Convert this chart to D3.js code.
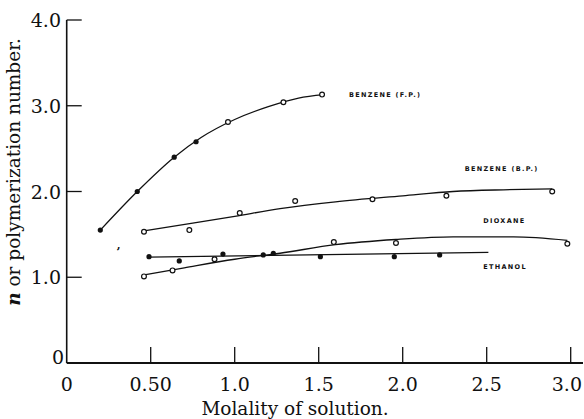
<!DOCTYPE html>
<html>
<head>
<meta charset="utf-8">
<script src="https://cdn.jsdelivr.net/npm/d3@7"></script>
<style>
  body { margin: 0; background: #fff; }
  svg { display: block; }
</style>
</head>
<body>
<script>
// values
const xTicks = [0.5, 1.0, 1.5, 2.0, 2.5, 3.0];
const xTickLabels = ["0.50", "1.0", "1.5", "2.0", "2.5", "3.0"];
const yTicks = [1, 2, 3, 4];
const yTickLabels = ["1.0", "2.0", "3.0", "4.0"];

const benzeneFPFilled = [[0.20, 1.55], [0.42, 2.0], [0.64, 2.40], [0.77, 2.58]];
const benzeneFPOpen = [[0.96, 2.81], [1.29, 3.04], [1.52, 3.13]];
const benzeneFPFit = [[0.20, 1.55], [0.42, 2.0], [0.64, 2.40], [0.80, 2.63], [1.0, 2.84], [1.2, 2.99], [1.38, 3.09], [1.53, 3.13]];

const benzeneBPOpen = [[0.46, 1.53], [0.73, 1.55], [1.03, 1.75], [1.36, 1.89], [1.82, 1.91], [2.26, 1.95], [2.89, 2.0]];
const benzeneBPFit = [[0.46, 1.54], [0.75, 1.63], [1.0, 1.71], [1.27, 1.80], [1.6, 1.88], [2.0, 1.95], [2.3, 2.0], [2.6, 2.02], [2.89, 2.03]];

const dioxaneOpen = [[0.46, 1.01], [0.63, 1.08], [0.88, 1.21], [1.59, 1.41], [1.96, 1.40], [2.98, 1.39]];
const dioxaneFit = [[0.47, 1.03], [0.7, 1.11], [1.0, 1.21], [1.27, 1.28], [1.6, 1.38], [1.96, 1.44], [2.3, 1.47], [2.66, 1.47], [2.98, 1.43]];

const ethanolFilled = [[0.49, 1.24], [0.67, 1.19], [0.93, 1.27], [1.17, 1.26], [1.23, 1.28], [1.51, 1.24], [1.95, 1.24], [2.22, 1.26]];
const ethanolFit = [[0.49, 1.235], [2.51, 1.29]];

const curveLabels = [
  {text: "BENZENE (F.P.)", at: [1.68, 3.1]},
  {text: "BENZENE (B.P.)", at: [2.37, 2.24]},
  {text: "DIOXANE", at: [2.48, 1.63]},
  {text: "ETHANOL", at: [2.48, 1.10]}
];
const strayMark = [0.31, 1.37];

const width = 584, height = 419;
const margin = {top: 20, left: 66.7};

const x = d3.scaleLinear().domain([0, 3.0]).range([margin.left, 570.7]);
const y = d3.scaleLinear().domain([0, 4.0]).range([363, margin.top]);

const svg = d3.select("body").append("svg")
    .attr("width", width)
    .attr("height", height)
    .attr("font-family", "'DejaVu Serif', serif");

// axes
svg.append("line")
    .attr("x1", x(0)).attr("x2", x(0))
    .attr("y1", y(0)).attr("y2", y(4))
    .attr("stroke", "#111").attr("stroke-width", 1.6);
svg.append("line")
    .attr("x1", x(0)).attr("x2", 583)
    .attr("y1", y(0)).attr("y2", y(0))
    .attr("stroke", "#111").attr("stroke-width", 1.8);

svg.append("g").selectAll("line")
  .data(xTicks)
  .join("line")
    .attr("x1", d => x(d)).attr("x2", d => x(d))
    .attr("y1", y(0)).attr("y2", y(0) - 16)
    .attr("stroke", "#111").attr("stroke-width", 1.3);

svg.append("g").selectAll("line")
  .data(yTicks)
  .join("line")
    .attr("x1", x(0)).attr("x2", x(0) + 15)
    .attr("y1", d => y(d)).attr("y2", d => y(d))
    .attr("stroke", "#111").attr("stroke-width", 1.3);

const tickFont = 19;

// the last label sits against the right edge, so it is anchored at its end
svg.append("g")
    .attr("font-size", tickFont)
    .attr("fill", "#111")
  .selectAll("text")
  .data(xTicks)
  .join("text")
    .attr("text-anchor", (d, i) => i === xTicks.length - 1 ? "end" : "middle")
    .attr("x", (d, i) => i === xTicks.length - 1 ? width - 2 : x(d))
    .attr("y", 391)
    .text((d, i) => xTickLabels[i]);

svg.append("text")
    .attr("x", x(0))
    .attr("y", 391)
    .attr("font-size", tickFont)
    .attr("fill", "#111")
    .attr("text-anchor", "middle")
    .text("0");

svg.append("g")
    .attr("font-size", tickFont)
    .attr("fill", "#111")
    .attr("text-anchor", "end")
  .selectAll("text")
  .data(yTicks)
  .join("text")
    .attr("x", 61)
    .attr("y", d => y(d) + 7)
    .text((d, i) => yTickLabels[i]);

svg.append("text")
    .attr("x", 64)
    .attr("y", y(0) + 1)
    .attr("font-size", tickFont)
    .attr("fill", "#111")
    .attr("text-anchor", "end")
    .text("0");

// axis titles
svg.append("text")
    .attr("x", 295)
    .attr("y", 415)
    .attr("font-size", 18.5)
    .attr("fill", "#111")
    .attr("text-anchor", "middle")
    .text("Molality of solution.");

const yTitle = svg.append("text")
    .attr("transform", "translate(20,172) rotate(-90)")
    .attr("font-size", 18.5)
    .attr("fill", "#111")
    .attr("text-anchor", "middle");
yTitle.append("tspan").attr("font-style", "italic").attr("font-weight", "bold").text("n");
yTitle.append("tspan").text(" or polymerization number.");

// fitted curves
const line = d3.line()
    .x(d => x(d[0]))
    .y(d => y(d[1]))
    .curve(d3.curveMonotoneX);

svg.append("g")
    .attr("fill", "none")
    .attr("stroke", "#111")
    .attr("stroke-width", 1.3)
  .selectAll("path")
  .data([benzeneFPFit, benzeneBPFit, dioxaneFit, ethanolFit])
  .join("path")
    .attr("d", line);

// points
svg.append("g")
  .selectAll("circle")
  .data([...benzeneFPFilled, ...ethanolFilled])
  .join("circle")
    .attr("cx", d => x(d[0]))
    .attr("cy", d => y(d[1]))
    .attr("r", 2.6)
    .attr("fill", "#111");

svg.append("g")
  .selectAll("circle")
  .data([...benzeneFPOpen, ...benzeneBPOpen, ...dioxaneOpen])
  .join("circle")
    .attr("cx", d => x(d[0]))
    .attr("cy", d => y(d[1]))
    .attr("r", 2.4)
    .attr("fill", "#fff")
    .attr("stroke", "#111")
    .attr("stroke-width", 1.2);

svg.append("text")
    .attr("x", x(strayMark[0]))
    .attr("y", y(strayMark[1]) + 3)
    .attr("font-size", 11)
    .attr("font-weight", "bold")
    .attr("fill", "#111")
    .attr("text-anchor", "middle")
    .text(",");

// hand-lettered curve labels
svg.append("g")
    .attr("font-family", "'DejaVu Sans', sans-serif")
    .attr("font-size", 6.5)
    .attr("font-weight", "bold")
    .attr("letter-spacing", 1.3)
    .attr("fill", "#111")
  .selectAll("text")
  .data(curveLabels)
  .join("text")
    .attr("x", d => x(d.at[0]))
    .attr("y", d => y(d.at[1]))
    .text(d => d.text);
</script>
</body>
</html>
